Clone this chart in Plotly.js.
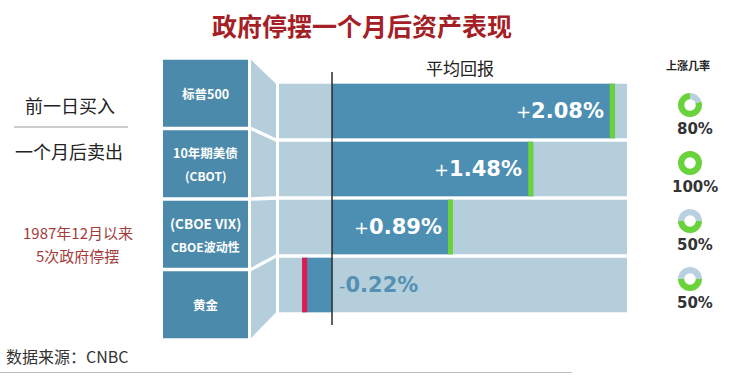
<!DOCTYPE html>
<html>
<head>
<meta charset="utf-8">
<script src="https://cdn.plot.ly/plotly-3.0.1.min.js"></script>
<style>html,body{margin:0;padding:0;background:#fff;}#chart{width:730px;height:376px;}</style>
</head>
<body>
<div id="chart"></div>
<script>
// ---- data ----
const categories = ['标普500', '10年期美债', 'CBOE波动性', '黄金'];
const avgReturn = [2.08, 1.48, 0.89, -0.22];
const upRate = [80, 100, 50, 50];
const boxLine1 = ['标普500', '10年期美债', '(CBOE VIX)', '黄金'];
const boxLine2 = ['', '(CBOT)', 'CBOE波动性', ''];
const titleText = '政府停摆一个月后资产表现';
const headerText = '平均回报';
const rateHeader = '上涨几率';
const leftTop = '前一日买入';
const leftBottom = '一个月后卖出';
const noteLines = ['1987年12月以来', '5次政府停摆'];
const sourceText = '数据来源：CNBC';

// ---- geometry helpers ----
const W = 730, H = 376;
const px = x => x / W;
const py = y => 1 - y / H;
const CJK = '"Noto Sans CJK SC", "Noto Sans", sans-serif';
const NUM = '"DejaVu Sans", sans-serif';

const rowTopPx = 82, rowBotPx = 314, rowPitch = (rowBotPx - rowTopPx) / categories.length;
const boxTopPx = 58, boxBotPx = 340, boxPitch = (boxBotPx - boxTopPx) / categories.length;
const barW = 0.94, boxW = 0.95;
const markW = 0.037;

const C_BOX = '#4b8aab', C_BAR = '#4d8fb2', C_LIGHT = '#b4cfdb';
const C_GREEN = '#6ad23b', C_RED = '#e01a4f', C_DONUT_BG = '#b9d0e0';

const traces = [];
// left label boxes
traces.push({
  type: 'bar', orientation: 'h', xaxis: 'x2', yaxis: 'y2',
  y: categories, x: categories.map(() => 1), width: boxW,
  marker: {color: C_BOX, line: {width: 0}}, hoverinfo: 'skip', showlegend: false
});
// return bars
traces.push({
  type: 'bar', orientation: 'h', y: categories, x: avgReturn, base: 0, width: barW,
  marker: {color: C_BAR, line: {width: 0}}, hoverinfo: 'skip', showlegend: false
});
// end markers
traces.push({
  type: 'bar', orientation: 'h', y: categories,
  x: avgReturn.map(v => Math.sign(v) * markW),
  base: avgReturn.map(v => v - Math.sign(v) * markW),
  width: barW,
  marker: {color: avgReturn.map(v => v >= 0 ? C_GREEN : C_RED), line: {width: 0}},
  hoverinfo: 'skip', showlegend: false
});
// donuts
const donutRot = [72, 0, 90, 90];
const donutR = 12;
const donutCY = categories.map((c, i) => rowTopPx + rowPitch * (i + 0.5) - 6);
upRate.forEach((u, i) => {
  traces.push({
    type: 'pie', values: [u, 100 - u], sort: false, direction: 'clockwise', rotation: donutRot[i],
    hole: 0.48, textinfo: 'none', hoverinfo: 'skip', showlegend: false,
    marker: {colors: [C_GREEN, C_DONUT_BG], line: {width: 0}},
    domain: {x: [px(690 - donutR), px(690 + donutR)], y: [py(donutCY[i] + donutR), py(donutCY[i] - donutR)]}
  });
});

const shapes = [];
// light background rows and connectors
categories.forEach((c, i) => {
  shapes.push({type: 'rect', xref: 'x domain', x0: 0, x1: 1, yref: 'y', y0: i - barW / 2, y1: i + barW / 2,
    fillcolor: C_LIGHT, line: {width: 0}, layer: 'below'});
  const bt = boxTopPx + boxPitch * (i + 0.5 - boxW / 2), bb = boxTopPx + boxPitch * (i + 0.5 + boxW / 2);
  const rt = rowTopPx + rowPitch * (i + 0.5 - barW / 2), rb = rowTopPx + rowPitch * (i + 0.5 + barW / 2);
  shapes.push({type: 'path', xref: 'paper', yref: 'paper',
    path: `M ${px(251)},${py(bt)} L ${px(276)},${py(rt)} L ${px(276)},${py(rb)} L ${px(251)},${py(bb)} Z`,
    fillcolor: C_LIGHT, line: {width: 0}, layer: 'below'});
});
// zero line
shapes.push({type: 'line', xref: 'x', x0: 0, x1: 0, yref: 'paper', y0: py(325), y1: py(72),
  line: {color: '#2b2b2b', width: 1.5}, layer: 'above'});
// left divider
shapes.push({type: 'line', xref: 'paper', yref: 'paper', x0: px(14), x1: px(128), y0: py(127), y1: py(127),
  line: {color: '#9a9a9a', width: 1}});
// bottom border line
shapes.push({type: 'line', xref: 'paper', yref: 'paper', x0: 0, x1: px(572), y0: py(372.5), y1: py(372.5),
  line: {color: '#bdbdbd', width: 1}});

const ann = [];
const paperText = (text, x, y, size, color, opts) => Object.assign({
  text, x: px(x), y: py(y), xref: 'paper', yref: 'paper', showarrow: false,
  xanchor: 'center', yanchor: 'middle', font: {family: CJK, size, color}
}, opts || {});
ann.push(paperText('<b>' + titleText + '</b>', 362, 25, 25, '#a51f26'));
ann.push(paperText(headerText, 460, 67, 17, '#222'));
ann.push(paperText('<b>' + rateHeader + '</b>', 688, 65, 11, '#222'));
ann.push(paperText(leftTop, 70, 105, 18, '#222'));
ann.push(paperText(leftBottom, 69, 151, 18, '#222'));
ann.push(paperText(noteLines[0], 78, 232, 15, '#a33b3b'));
ann.push(paperText(noteLines[1], 77, 255, 15, '#a33b3b'));
ann.push(paperText(sourceText, 4, 356, 16, '#333', {xanchor: 'left'}));

// box labels
categories.forEach((c, i) => {
  const two = boxLine2[i] !== '';
  ann.push({text: '<b>' + boxLine1[i] + '</b>', xref: 'x2', yref: 'y2', x: 0.5, y: c, showarrow: false,
    xanchor: 'center', yanchor: 'middle', yshift: two ? 11 : 0,
    font: {family: CJK, size: i === 2 ? 13.5 : 12.5, color: '#fff'}});
  if (two) ann.push({text: '<b>' + boxLine2[i] + '</b>', xref: 'x2', yref: 'y2', x: 0.5, y: c, showarrow: false,
    xanchor: 'center', yanchor: 'middle', yshift: -12,
    font: {family: CJK, size: 12, color: '#fff'}});
});

// return labels
avgReturn.forEach((v, i) => {
  const pos = v >= 0;
  const txt = '<span style="font-size:18px">' + (pos ? '+' : '-') + '</span><b>' + Math.abs(v).toFixed(2) + '%</b>';
  ann.push({text: txt, xref: 'x', yref: 'y', x: pos ? v - markW : 0, y: categories[i], showarrow: false,
    xanchor: pos ? 'right' : 'left', yanchor: 'middle', xshift: pos ? -4 : 5,
    font: {family: NUM, size: 21, color: pos ? '#ffffff' : '#5590b3'}});
});

// donut percentage labels
upRate.forEach((u, i) => {
  ann.push({text: '<b>' + u + '%</b>', xref: 'paper', yref: 'paper', x: px(695), y: py(donutCY[i] + 24),
    showarrow: false, xanchor: 'center', yanchor: 'middle', font: {family: NUM, size: 15, color: '#333'}});
});

const hidden = {visible: false, showgrid: false, zeroline: false, showticklabels: false, fixedrange: true};
const layout = {
  width: W, height: H, margin: {l: 0, r: 0, t: 0, b: 0},
  paper_bgcolor: '#fff', plot_bgcolor: 'rgba(0,0,0,0)',
  barmode: 'overlay', showlegend: false,
  xaxis: Object.assign({domain: [px(279), px(627)], range: [-0.39, 2.17], anchor: 'y'}, hidden),
  yaxis: Object.assign({domain: [py(rowBotPx), py(rowTopPx)], type: 'category', range: [3.5, -0.5], anchor: 'x'}, hidden),
  xaxis2: Object.assign({domain: [px(163), px(248)], range: [0, 1], anchor: 'y2'}, hidden),
  yaxis2: Object.assign({domain: [py(boxBotPx), py(boxTopPx)], type: 'category', range: [3.5, -0.5], anchor: 'x2'}, hidden),
  shapes, annotations: ann
};
Plotly.newPlot('chart', traces, layout, {displayModeBar: false, staticPlot: true});
</script>
</body>
</html>
